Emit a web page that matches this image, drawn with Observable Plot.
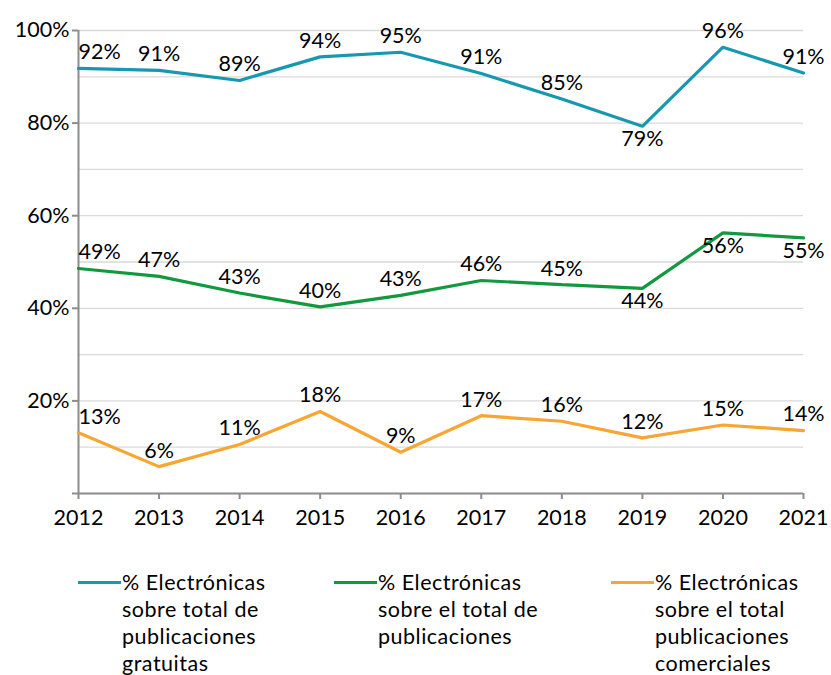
<!DOCTYPE html>
<html>
<head>
<meta charset="utf-8">
<script src="https://cdn.jsdelivr.net/npm/d3@7"></script>
<script src="https://cdn.jsdelivr.net/npm/@observablehq/plot@0.6"></script>
<style>
  html, body { margin: 0; padding: 0; background: #fff; }
  body { width: 831px; height: 675px; overflow: hidden; font-family: Lato, "Open Sans", sans-serif; }
  #legend { position: relative; height: 130px; }
  .item { position: absolute; top: 24px; font-size: 21.5px; line-height: 27px; color: #000; letter-spacing: 0.5px; white-space: nowrap; }
  .sw { position: absolute; width: 43px; height: 3px; }
</style>
</head>
<body>
<div id="chart"></div>
<div id="legend"></div>
<script>
const years = [2012, 2013, 2014, 2015, 2016, 2017, 2018, 2019, 2020, 2021];
const gratuitas = [91.8, 91.4, 89.2, 94.3, 95.3, 90.7, 85.2, 79.3, 96.4, 90.8];
const total = [48.6, 46.9, 43.3, 40.3, 42.8, 46.0, 45.1, 44.3, 56.3, 55.2];
const comerciales = [13.1, 5.8, 10.6, 17.7, 8.9, 16.8, 15.6, 12.0, 14.8, 13.6];
const seriesNames = [
  "% Electrónicas sobre total de publicaciones gratuitas",
  "% Electrónicas sobre el total de publicaciones",
  "% Electrónicas sobre el total publicaciones comerciales"
];
const legendLines = [
  ["% Electrónicas", "sobre total de", "publicaciones", "gratuitas"],
  ["% Electrónicas", "sobre el total de", "publicaciones"],
  ["% Electrónicas", "sobre el total", "publicaciones", "comerciales"]
];
const colors = ["#1798b0", "#12993f", "#f7a533"];
const yTicks = [0, 20, 40, 60, 80, 100];
// labels drawn under their point instead of above
const labelsBelow = [[2019], [2019, 2020, 2021], []];

const seriesValues = [gratuitas, total, comerciales];
const rows = seriesValues.flatMap((vals, s) => years.map((year, i) => ({
  year, value: vals[i], series: seriesNames[s],
  label: Math.round(vals[i]) + "%",
  below: labelsBelow[s].includes(year)
})));

const font = "Lato, 'Open Sans', sans-serif";
const FS = 21.5;
const textOpts = {x: "year", y: "value", text: "label", fontSize: FS, fill: "#000", lineAnchor: "middle"};

const plot = Plot.plot({
  width: 831,
  height: 545,
  marginLeft: 78,
  marginRight: 28,
  marginTop: 30,
  marginBottom: 52,
  style: {fontFamily: font, fontSize: FS + "px", color: "#000", background: "#fff"},
  x: {domain: [2012, 2021], label: null},
  y: {domain: [0, 100], label: null},
  color: {domain: seriesNames, range: colors},
  marks: [
    Plot.gridY(d3.range(10, 101, 10), {stroke: "#d9d9d9", strokeOpacity: 1, strokeWidth: 1.3}),
    Plot.ruleY([0], {stroke: "#8c8c8c", strokeWidth: 2}),
    Plot.ruleX([2012], {stroke: "#8c8c8c", strokeWidth: 2}),
    Plot.axisX({ticks: years, tickFormat: d => String(d), tickSize: 6, tickPadding: 10, stroke: "#8c8c8c", strokeWidth: 2, fontSize: FS, fill: "#000"}),
    Plot.axisY({ticks: yTicks, tickFormat: d => d === 0 ? "" : d + "%", tickSize: 6, tickPadding: 3, stroke: "#8c8c8c", strokeWidth: 2, fontSize: FS, fill: "#000"}),
    Plot.line(rows, {x: "year", y: "value", z: "series", stroke: "series", strokeWidth: 3.2, strokeLinejoin: "miter"}),
    Plot.text(rows.filter(d => !d.below && d.year !== 2012), {...textOpts, dy: -16}),
    Plot.text(rows.filter(d => !d.below && d.year === 2012), {...textOpts, dy: -16, textAnchor: "start"}),
    Plot.text(rows.filter(d => d.below), {...textOpts, dy: 13})
  ]
});
document.getElementById("chart").appendChild(plot);

const legend = document.getElementById("legend");
const lefts = [122, 378, 655];
legendLines.forEach((lines, i) => {
  const item = document.createElement("div");
  item.className = "item";
  item.style.left = lefts[i] + "px";
  item.innerHTML = lines.join("<br>");
  const sw = document.createElement("div");
  sw.className = "sw";
  sw.style.background = colors[i];
  sw.style.left = (lefts[i] - 44) + "px";
  sw.style.top = "36px";
  legend.appendChild(sw);
  legend.appendChild(item);
});
</script>
</body>
</html>
